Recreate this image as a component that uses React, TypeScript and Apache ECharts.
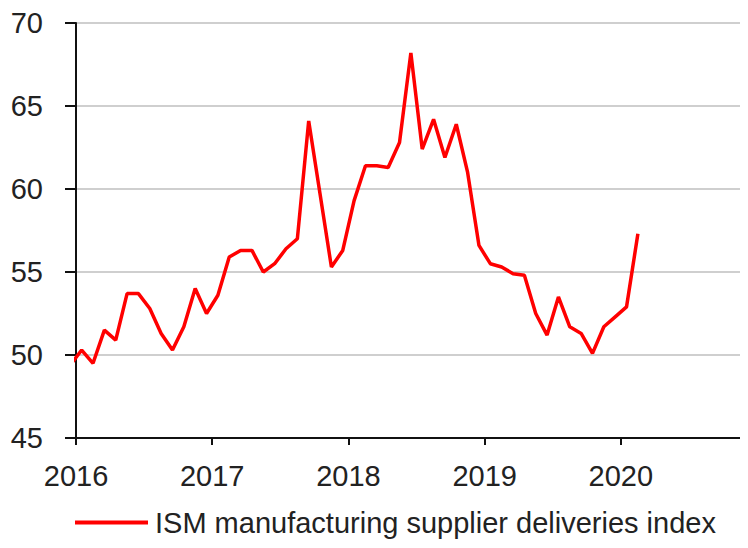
import React, { useEffect, useRef } from "react";
import * as echarts from "echarts";

// Monthly ISM supplier deliveries index, Dec 2015 .. Feb 2020
const values2015 = [49.4]; // Dec 2015
const values2016 = [50.3, 49.5, 51.5, 50.9, 53.7, 53.7, 52.8, 51.3, 50.3, 51.7, 54.0, 52.5];
const values2017 = [53.6, 55.9, 56.3, 56.3, 55.0, 55.5, 56.4, 57.0, 64.1, 59.7, 55.3, 56.3];
const values2018 = [59.3, 61.4, 61.4, 61.3, 62.8, 68.2, 62.4, 64.2, 61.9, 63.9, 61.0, 56.6];
const values2019 = [55.5, 55.3, 54.9, 54.8, 52.5, 51.2, 53.5, 51.7, 51.3, 50.1, 51.7, 52.3];
const values2020 = [52.9, 57.3];
const yearLabels = ["2016", "2017", "2018", "2019", "2020"];
const seriesName = "ISM manufacturing supplier deliveries index";

const FONT = "'Liberation Sans', Arial, Helvetica, sans-serif";

export default function App() {
  const ref = useRef<HTMLDivElement>(null);
  useEffect(() => {
    if (!ref.current) return;
    const chart = echarts.init(ref.current, undefined, { renderer: "svg" });
    const all = [...values2015, ...values2016, ...values2017, ...values2018, ...values2019, ...values2020];
    // x in months since Jan 2016; points plotted at mid-month; first point is Dec 2015
    const data = all.map((v, i) => [i - 1 + 0.5, v]);
    chart.setOption({
      animation: false,
      grid: { left: 76, right: 0, top: 23, bottom: 110, containLabel: false },
      legend: {
        show: true,
        left: 70,
        top: 503,
        icon: "rect",
        itemWidth: 73,
        itemHeight: 4,
        itemGap: 10,
        textStyle: { fontFamily: FONT, fontSize: 29, color: "#222", padding: [0, 0, 0, 2] },
        data: [{ name: seriesName }],
      },
      xAxis: {
        type: "value",
        min: 0,
        max: 59.2,
        interval: 12,
        axisLine: { show: true, onZero: false, lineStyle: { color: "#111", width: 2 } },
        axisTick: { show: true, length: 7, lineStyle: { color: "#111", width: 2 } },
        splitLine: { show: false },
        axisLabel: {
          margin: 23,
          showMaxLabel: false,
          fontFamily: FONT,
          fontSize: 29,
          color: "#222",
          formatter: (v: number) => {
            const k = Math.round(v / 12);
            return Math.abs(v - k * 12) < 1e-6 && yearLabels[k] ? yearLabels[k] : "";
          },
        },
      },
      yAxis: {
        type: "value",
        min: 45,
        max: 70,
        interval: 5,
        axisLine: { show: true, lineStyle: { color: "#111", width: 2 } },
        axisTick: { show: true, length: 11, lineStyle: { color: "#111", width: 2 } },
        splitLine: { show: true, lineStyle: { color: "#cfcfcf", width: 2 } },
        axisLabel: { margin: 33, fontFamily: FONT, fontSize: 29, color: "#222" },
      },
      series: [
        {
          name: seriesName,
          type: "line",
          data,
          symbol: "none",
          clip: true,
          lineStyle: { color: "#ff0000", width: 3.5 },
          itemStyle: { color: "#ff0000" },
        },
      ],
    });
    return () => chart.dispose();
  }, []);
  return <div ref={ref} style={{ width: 748, height: 548, margin: -8 }} />;
}
